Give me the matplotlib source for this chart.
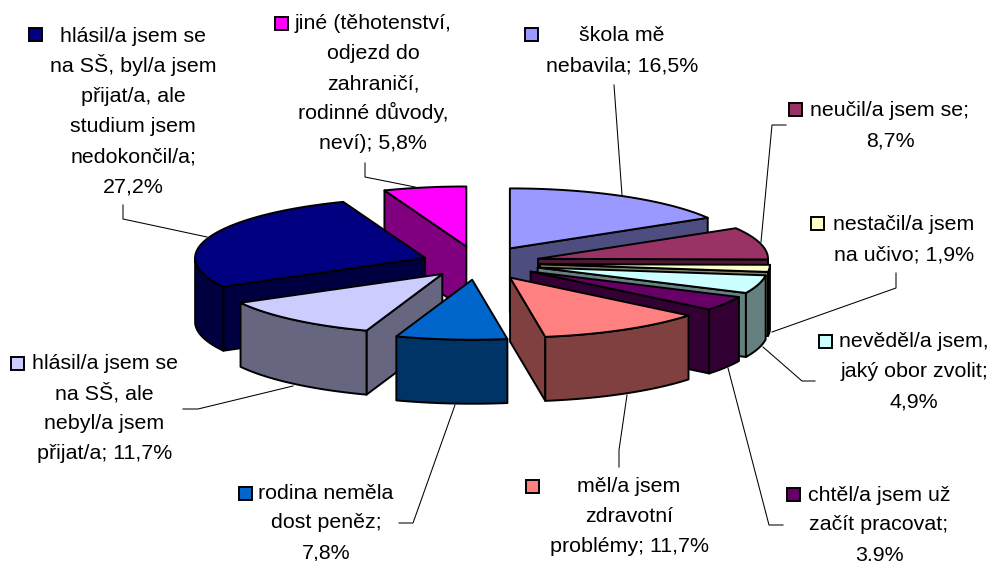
import numpy as np
import matplotlib
matplotlib.use('Agg')
import matplotlib.pyplot as plt
from matplotlib.patches import Polygon, Rectangle

plt.rcParams['font.family'] = ['Liberation Sans', 'DejaVu Sans']

# clockwise from 12 o'clock
values = [16.5, 8.7, 1.9, 4.9, 3.9, 11.7, 7.8, 11.7, 27.2, 5.8]
colors = ['#9999FF', '#993366', '#FFFFCC', '#CCFFFF', '#660066',
          '#FF8080', '#0066CC', '#CCCCFF', '#000080', '#FF00FF']
labels = [
    ['škola mě', 'nebavila; 16,5%'],
    ['neučil/a jsem se;', '8,7%'],
    ['nestačil/a jsem', 'na učivo; 1,9%'],
    ['nevěděl/a jsem,', 'jaký obor zvolit;', '4,9%'],
    ['chtěl/a jsem už', 'začít pracovat;', '3,9%'],
    ['měl/a jsem', 'zdravotní', 'problémy; 11,7%'],
    ['rodina neměla', 'dost peněz;', '7,8%'],
    ['hlásil/a jsem se', 'na SŠ, ale', 'nebyl/a jsem', 'přijat/a; 11,7%'],
    ['hlásil/a jsem se', 'na SŠ, byl/a jsem', 'přijat/a, ale', 'studium jsem', 'nedokončil/a;', '27,2%'],
    ['jiné (těhotenství,', 'odjezd do', 'zahraničí,', 'rodinné důvody,', 'neví); 5,8%'],
]

# layout, in pixels of the 991x561 picture
explode = [0.28, 0.27, 0.27, 0.27, 0.27, 0.28, 0.28, 0.24, 0.245, 0.28]
draw_order = [0, 1, 2, 3, 4, 9, 8, 7, 5, 6]
cx, cy, rx, ry, depth = 478, 263, 230, 60, 64
text_x = [622, 890, 904, 914, 879, 629, 326, 104.5, 133, 373]
text_y = [41, 116, 230, 347, 500.5, 492, 498.5, 369, 42, 29]
key_xy = [(525, 28), (789, 103), (811, 217), (819, 335), (787, 488),
          (526, 480), (239, 487), (11, 357), (29, 28), (275, 17)]
leaders = [
    [(614, 85), (622, 195)],
    [(786, 125), (772, 125), (761, 242)],
    [(896, 273), (896, 288), (772, 332)],
    [(815, 381), (802, 381), (763, 347)],
    [(783, 525), (769, 525), (728, 368)],
    [(619, 467), (619, 450), (627, 395)],
    [(399, 523), (413, 523), (455, 405)],
    [(183, 409), (198, 409), (293, 386)],
    [(123, 205), (123, 219), (207, 237)],
    [(365, 163), (365, 177), (415, 187)],
]


def rim_point(x0, y0, theta):
    return x0 + rx * np.sin(theta), y0 - ry * np.cos(theta)


def darker(color):
    r, g, b = matplotlib.colors.to_rgb(color)
    return (r * 0.5, g * 0.5, b * 0.5)


fig = plt.figure(figsize=(9.91, 5.61), dpi=100)
ax = fig.add_axes([0, 0, 1, 1])
ax.set_xlim(0, 991)
ax.set_ylim(561, 0)
ax.axis('off')

for pts in leaders:
    ax.plot([p[0] for p in pts], [p[1] for p in pts], color='black', lw=0.75, zorder=1)

edges = np.radians(np.concatenate([[0], np.cumsum(values) / np.sum(values) * 360]))
z = 2
for i in draw_order:
    a, b = edges[i], edges[i + 1]
    mid = (a + b) / 2
    x0 = cx + explode[i] * rx * np.sin(mid)
    y0 = cy - explode[i] * ry * np.cos(mid)
    side = darker(colors[i])
    style = dict(edgecolor='black', linewidth=1.4, joinstyle='round')

    # cut faces that look towards the viewer
    for edge, visible in ((a, np.sin(a) < -1e-6), (b, np.sin(b) > 1e-6)):
        if visible:
            px, py = rim_point(x0, y0, edge)
            ax.add_patch(Polygon([(x0, y0), (px, py), (px, py + depth), (x0, y0 + depth)],
                                 facecolor=side, zorder=z, **style))
            z += 1

    # outer wall, front half only
    lo, hi = max(a, np.pi / 2), min(b, 3 * np.pi / 2)
    if hi > lo:
        t = np.linspace(lo, hi, 60)
        px, py = rim_point(x0, y0, t)
        wall = np.column_stack([np.r_[px, px[::-1]], np.r_[py, py[::-1] + depth]])
        ax.add_patch(Polygon(wall, facecolor=side, zorder=z, **style))
        z += 1

    # top
    t = np.linspace(a, b, 80)
    px, py = rim_point(x0, y0, t)
    top = np.column_stack([np.r_[x0, px], np.r_[y0, py]])
    ax.add_patch(Polygon(top, facecolor=colors[i], zorder=z, **style))
    z += 1

for i, lines in enumerate(labels):
    kx, ky = key_xy[i]
    ax.add_patch(Rectangle((kx, ky), 13, 13, facecolor=colors[i], edgecolor='black',
                           linewidth=1.4, zorder=z))
    for j, line in enumerate(lines):
        ax.text(text_x[i], text_y[i] + j * 30, line, fontsize=15.4, color='black',
                ha='center', va='baseline', zorder=z)

fig.savefig('out.png', dpi=100)
